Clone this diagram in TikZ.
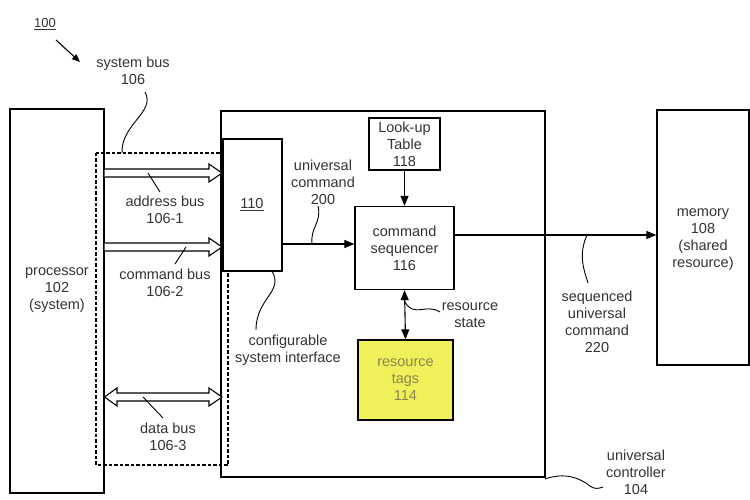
\documentclass[tikz,border=0pt]{standalone}
\usepackage{fontspec}
\setmainfont{Liberation Sans}
\usetikzlibrary{arrows.meta,calc}
\definecolor{tagfill}{RGB}{240,240,90}
\definecolor{tagtext}{RGB}{140,135,80}
\begin{document}
\begin{tikzpicture}[x=1pt,y=-1pt,
  box/.style={draw, line width=1.3pt, inner sep=0pt},
  lbl/.style={align=center, font=\fontsize{14.5}{17}\selectfont, text=black!80, inner sep=0pt},
  lead/.style={line width=0.9pt},
  conn/.style={line width=1.1pt, -{Triangle[length=10pt,width=8pt]}},
  dconn/.style={line width=1.1pt, {Triangle[length=10pt,width=8pt]}-{Triangle[length=10pt,width=8pt]}},
  bus/.style={draw, line width=1.1pt, fill=white, line join=miter},
]
\useasboundingbox (0,0) rectangle (750,500);

% boxes
\node[box, minimum width=94pt, minimum height=384pt] (proc) at (57,301) {};
\node[lbl] (proct) at (57,290) {processor\\102\\(system)};

\node[box, minimum width=324pt, minimum height=366pt] (ctrl) at (383,294) {};
\draw[line width=1.3pt, dash pattern=on 3.5pt off 2pt] (96,153) rectangle (228,465);
\node[box, fill=white, minimum width=59pt, minimum height=132pt] (c110) at (252.5,205) {};
\node[lbl] (t110) at (252,205) {\underline{110}};

\node[box, minimum width=71pt, minimum height=52pt, lbl, draw=black] (lut) at (404.5,144) {Look-up\\Table\\118};
\node[box, minimum width=99pt, minimum height=83pt, lbl, draw=black] (seq) at (404.5,248) {command\\sequencer\\116};
\node[box, minimum width=95pt, minimum height=80pt, fill=tagfill, lbl, draw=black, text=tagtext] (tags) at (405.5,380) {resource\\tags\\114};
\node[box, minimum width=92pt, minimum height=255pt] (mem) at (703,237.5) {};
\node[lbl] (memt) at (703,240) {memory\\108\\(shared\\resource)};

% connectors
\draw[conn] (lut.south) -- (seq.north);
\coordinate (ucin) at ($(seq.west)+(0,-4)$);
\draw[conn] (c110.east |- ucin) -- (ucin);
\coordinate (sqout) at ($(seq.east)+(0,-13)$);
\draw[conn] (sqout) -- (mem.west |- sqout);
\draw[dconn] (seq.south) -- (tags.north);

% bus arrows
\draw[bus] (104.6,169) -- (209,169) -- (209,164) -- (222,173) -- (209,182) -- (209,177) -- (104.6,177);
\draw[bus] (104.6,243) -- (209,243) -- (209,238) -- (222,247) -- (209,256) -- (209,251) -- (104.6,251);
\draw[bus] (104.6,397) -- (117,388) -- (117,393) -- (209,393) -- (209,388) -- (222,397) -- (209,406) -- (209,401) -- (117,401) -- (117,406) -- cycle;

% labels
\node[lbl, font=\fontsize{13}{15}\selectfont] (l100) at (45,24) {\underline{100}};
\draw[line width=1.1pt, -{Triangle[length=8pt,width=6.5pt]}] (56,40) -- (80,62);
\node[lbl] (lsys) at (133,71) {system bus\\106};
\draw[lead] (145,92) .. controls (156,112) and (121,124) .. (122,153);
\node[lbl] (ladr) at (165,210) {address bus\\106-1};
\draw[lead] (148,173) -- (160,192);
\node[lbl] (lcmd) at (165,283) {command bus\\106-2};
\draw[lead] (186,247) -- (175,264);
\node[lbl] (ldat) at (168,437) {data bus\\106-3};
\draw[lead] (143,397) -- (163,418);
\node[lbl] (luc) at (323,182) {universal\\command\\200};
\draw[lead] (318,206) .. controls (322,222) and (310,228) .. (312,244);
\node[lbl] (lcfg) at (288,350) {configurable\\system interface};
\draw[lead] (272,271) .. controls (284,292) and (256,298) .. (256,330);
\node[lbl] (lrs) at (470,315) {resource\\state};
\draw[lead] (405,302) .. controls (414,318) and (426,303) .. (440,312);
\node[lbl] (lsuc) at (597,322) {sequenced\\universal\\command\\220};
\draw[lead] (587,235) .. controls (578,255) and (584,270) .. (588,283);
\node[lbl] (luctl) at (636,472) {universal\\controller\\104};
\draw[lead] (545,479) .. controls (565,472) and (580,478) .. (590,486) .. controls (594,489) and (598,489) .. (603,487);
\end{tikzpicture}
\end{document}
